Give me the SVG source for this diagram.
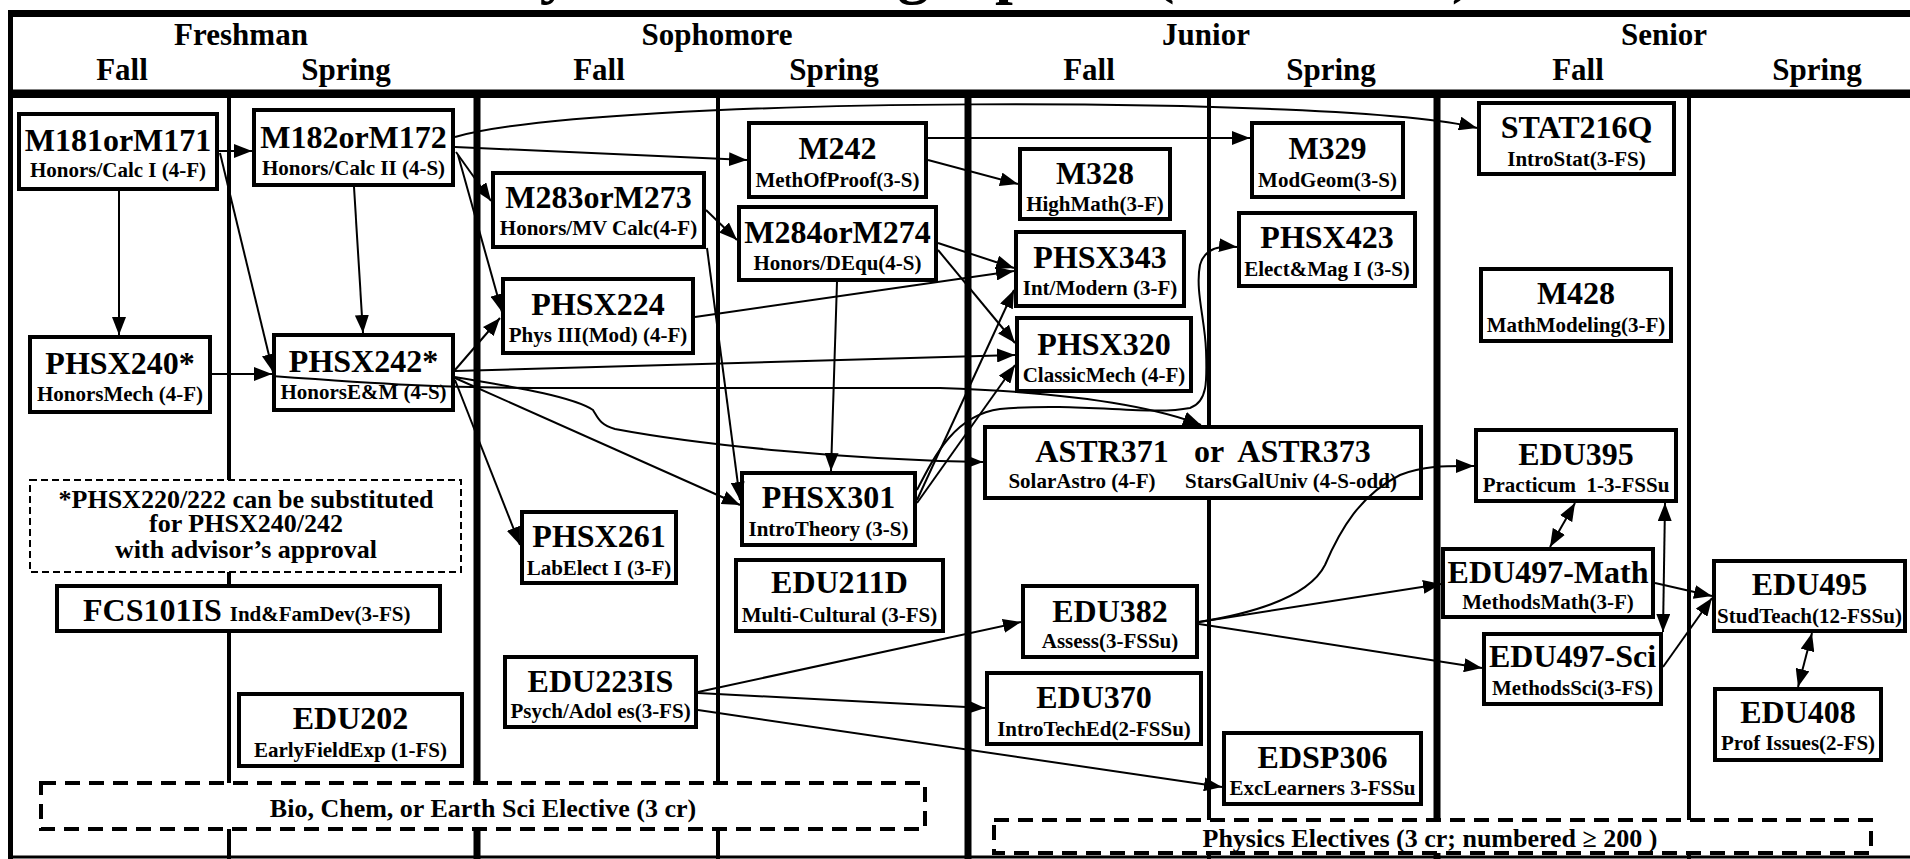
<svg xmlns="http://www.w3.org/2000/svg" width="1910" height="859" viewBox="0 0 1910 859">
<style>
text{font-family:"Liberation Serif","Times New Roman",serif;font-weight:bold;fill:#000}
.title{font-size:64px}
.hdr{font-size:31px;text-anchor:middle}
.main{font-size:32px;text-anchor:middle}
.sub{font-size:21px;text-anchor:middle}
.note{font-size:26px;text-anchor:middle}
.box{fill:#fff;stroke:#000;stroke-width:4}
.dash1{fill:#fff;stroke:#000;stroke-width:2;stroke-dasharray:7 4}
.dash2{fill:#fff;stroke:#000;stroke-width:4;stroke-dasharray:15 9}
.frame{fill:#000}
.c{fill:none;stroke:#000;stroke-width:2;marker-end:url(#ah)}
.d{fill:none;stroke:#000;stroke-width:2;marker-end:url(#ah);marker-start:url(#ah)}
</style>
<defs>
<marker id="ah" markerUnits="userSpaceOnUse" markerWidth="18" markerHeight="14" refX="18" refY="7" orient="auto-start-reverse" viewBox="0 0 18 14">
<path d="M0,0 L18,7 L0,14 z" fill="#000"/>
</marker>
</defs>
<rect width="1910" height="859" fill="#fff"/>
<text class="title" x="465" y="-9">Physics Teaching Option (2014-2015)</text>
<g id="frame">
<rect class="frame" x="8" y="10" width="1902" height="7"/>
<rect class="frame" x="8" y="89.5" width="1902" height="8.5"/>
<rect class="frame" x="8" y="10" width="5" height="849"/>
<rect class="frame" x="8" y="855.5" width="1902" height="3"/>
<rect class="frame" x="227" y="97" width="4" height="762"/>
<rect class="frame" x="473.5" y="97" width="7" height="762"/>
<rect class="frame" x="716" y="97" width="4" height="762"/>
<rect class="frame" x="964.5" y="97" width="7" height="762"/>
<rect class="frame" x="1207" y="97" width="4" height="762"/>
<rect class="frame" x="1433.5" y="97" width="7" height="762"/>
<rect class="frame" x="1687" y="97" width="4" height="762"/>
</g>
<g id="headers">
<text class="hdr" x="241" y="45">Freshman</text>
<text class="hdr" x="122" y="80">Fall</text>
<text class="hdr" x="346" y="80">Spring</text>
<text class="hdr" x="717" y="45">Sophomore</text>
<text class="hdr" x="599" y="80">Fall</text>
<text class="hdr" x="834" y="80">Spring</text>
<text class="hdr" x="1206" y="45">Junior</text>
<text class="hdr" x="1089" y="80">Fall</text>
<text class="hdr" x="1331" y="80">Spring</text>
<text class="hdr" x="1664" y="45">Senior</text>
<text class="hdr" x="1578" y="80">Fall</text>
<text class="hdr" x="1817" y="80">Spring</text>
</g>
<g id="note">
<rect class="dash1" x="30" y="480" width="431" height="92"/>
<text class="note" x="246" y="508">*PHSX220/222 can be substituted</text>
<text class="note" x="246" y="532">for PHSX240/242</text>
<text class="note" x="246" y="558">with advisor’s approval</text>
</g>
<g id="bio-elective">
<rect class="dash2" x="41" y="783" width="884" height="46"/>
<text class="note" x="483" y="817">Bio, Chem, or Earth Sci Elective (3 cr)</text>
</g>
<g id="phys-electives">
<rect class="dash2" x="994" y="820" width="877" height="33"/>
<text class="note" x="1430" y="847">Physics Electives (3 cr; numbered ≥ 200 )</text>
</g>
<g id="M181"><rect class="box" x="19" y="114" width="198" height="75"/><text class="main" x="118" y="151">M181orM171</text><text class="sub" x="118" y="177">Honors/Calc I (4-F)</text></g>
<g id="M182"><rect class="box" x="254" y="110" width="199" height="75"/><text class="main" x="353.5" y="148">M182orM172</text><text class="sub" x="353.5" y="175">Honors/Calc II (4-S)</text></g>
<g id="PHSX240"><rect class="box" x="30" y="337" width="180" height="75"/><text class="main" x="120" y="374">PHSX240*</text><text class="sub" x="120" y="401">HonorsMech (4-F)</text></g>
<g id="PHSX242"><rect class="box" x="274" y="335" width="179" height="75"/><text class="main" x="363.5" y="372">PHSX242*</text><text class="sub" x="363.5" y="399">HonorsE&amp;M (4-S)</text></g>
<g id="FCS101IS"><rect class="box" x="57" y="586" width="383" height="45"/><text x="83" y="621" style="font-size:32px" xml:space="preserve">FCS101IS <tspan style="font-size:21px">Ind&amp;FamDev(3-FS)</tspan></text></g>
<g id="EDU202"><rect class="box" x="239" y="694" width="223" height="72"/><text class="main" x="350.5" y="729">EDU202</text><text class="sub" x="350.5" y="757">EarlyFieldExp (1-FS)</text></g>
<g id="M283"><rect class="box" x="493" y="173" width="211" height="74"/><text class="main" x="598.5" y="208">M283orM273</text><text class="sub" x="598.5" y="235">Honors/MV Calc(4-F)</text></g>
<g id="PHSX224"><rect class="box" x="503" y="279" width="190" height="74"/><text class="main" x="598" y="315">PHSX224</text><text class="sub" x="598" y="342">Phys III(Mod) (4-F)</text></g>
<g id="PHSX261"><rect class="box" x="522" y="512" width="154" height="71"/><text class="main" x="599" y="547">PHSX261</text><text class="sub" x="599" y="575">LabElect I (3-F)</text></g>
<g id="EDU223IS"><rect class="box" x="505" y="657" width="191" height="70"/><text class="main" x="600.5" y="692">EDU223IS</text><text class="sub" x="600.5" y="718">Psych/Adol es(3-FS)</text></g>
<g id="M242"><rect class="box" x="749" y="123" width="177" height="74"/><text class="main" x="837.5" y="159">M242</text><text class="sub" x="837.5" y="187">MethOfProof(3-S)</text></g>
<g id="M284"><rect class="box" x="739" y="207" width="197" height="73"/><text class="main" x="837.5" y="243">M284orM274</text><text class="sub" x="837.5" y="270">Honors/DEqu(4-S)</text></g>
<g id="PHSX301"><rect class="box" x="742" y="473" width="173" height="72"/><text class="main" x="828.5" y="508">PHSX301</text><text class="sub" x="828.5" y="536">IntroTheory (3-S)</text></g>
<g id="EDU211D"><rect class="box" x="736" y="560" width="207" height="71"/><text class="main" x="839.5" y="593">EDU211D</text><text class="sub" x="839.5" y="622">Multi-Cultural (3-FS)</text></g>
<g id="M328"><rect class="box" x="1020" y="149" width="150" height="70"/><text class="main" x="1095" y="184">M328</text><text class="sub" x="1095" y="211">HighMath(3-F)</text></g>
<g id="PHSX343"><rect class="box" x="1016" y="232" width="168" height="74"/><text class="main" x="1100" y="268">PHSX343</text><text class="sub" x="1100" y="295">Int/Modern (3-F)</text></g>
<g id="PHSX320"><rect class="box" x="1017" y="318" width="174" height="73"/><text class="main" x="1104" y="355">PHSX320</text><text class="sub" x="1104" y="382">ClassicMech (4-F)</text></g>
<g id="ASTR"><rect class="box" x="985" y="427" width="436" height="71"/><text class="main" y="462"><tspan x="1102">ASTR371</tspan><tspan x="1209">or</tspan><tspan x="1304">ASTR373</tspan></text><text class="sub" y="488"><tspan x="1082">SolarAstro (4-F)</tspan><tspan x="1291">StarsGalUniv (4-S-odd)</tspan></text></g>
<g id="EDU382"><rect class="box" x="1023" y="586" width="174" height="71"/><text class="main" x="1110" y="622">EDU382</text><text class="sub" x="1110" y="648">Assess(3-FSSu)</text></g>
<g id="EDU370"><rect class="box" x="987" y="673" width="214" height="71"/><text class="main" x="1094" y="708">EDU370</text><text class="sub" x="1094" y="736">IntroTechEd(2-FSSu)</text></g>
<g id="M329"><rect class="box" x="1252" y="123" width="151" height="74"/><text class="main" x="1327.5" y="159">M329</text><text class="sub" x="1327.5" y="187">ModGeom(3-S)</text></g>
<g id="PHSX423"><rect class="box" x="1239" y="213" width="176" height="73"/><text class="main" x="1327" y="248">PHSX423</text><text class="sub" x="1327" y="276">Elect&amp;Mag I (3-S)</text></g>
<g id="EDSP306"><rect class="box" x="1224" y="733" width="197" height="71"/><text class="main" x="1322.5" y="768">EDSP306</text><text class="sub" x="1322.5" y="795">ExcLearners 3-FSSu</text></g>
<g id="STAT216Q"><rect class="box" x="1479" y="103" width="195" height="71"/><text class="main" x="1576.5" y="138">STAT216Q</text><text class="sub" x="1576.5" y="166">IntroStat(3-FS)</text></g>
<g id="M428"><rect class="box" x="1481" y="269" width="190" height="72"/><text class="main" x="1576" y="304">M428</text><text class="sub" x="1576" y="332">MathModeling(3-F)</text></g>
<g id="EDU395"><rect class="box" x="1476" y="430" width="200" height="71"/><text class="main" x="1576" y="465">EDU395</text><text class="sub" x="1576" y="492" xml:space="preserve">Practicum  1-3-FSSu</text></g>
<g id="EDU497-Math"><rect class="box" x="1443" y="549" width="210" height="68"/><text class="main" x="1548" y="583">EDU497-Math</text><text class="sub" x="1548" y="609">MethodsMath(3-F)</text></g>
<g id="EDU497-Sci"><rect class="box" x="1484" y="634" width="177" height="70"/><text class="main" x="1572.5" y="667">EDU497-Sci</text><text class="sub" x="1572.5" y="695">MethodsSci(3-FS)</text></g>
<g id="EDU495"><rect class="box" x="1714" y="561" width="191" height="70"/><text class="main" x="1809.5" y="595">EDU495</text><text class="sub" x="1809.5" y="623">StudTeach(12-FSSu)</text></g>
<g id="EDU408"><rect class="box" x="1715" y="689" width="166" height="71"/><text class="main" x="1798" y="723">EDU408</text><text class="sub" x="1798" y="750">Prof Issues(2-FS)</text></g>
<g id="connectors">
<path class="c" d="M219,151 L252,151"/>
<path class="c" d="M119,191 L119,335"/>
<path class="c" d="M220,153 L273,372"/>
<path class="c" d="M354,187 L363,333"/>
<path class="c" d="M212,374 L272,374"/>
<path class="c" d="M455,147 L747,160"/>
<path class="c" d="M455,137 C600,95 1350,95 1477,128"/>
<path class="c" d="M456,152 L491,201"/>
<path class="c" d="M458,155 L502,312"/>
<path class="c" d="M455,370 L500,318"/>
<path class="c" d="M455,371 L1015,355"/>
<path class="c" d="M272,376 C380,384 440,388 560,388 L940,388 C1060,392 1150,405 1201,425"/>
<path class="c" d="M455,377 C500,385 570,395 593,410 C598,418 600,425 615,429 C700,445 850,460 983,462"/>
<path class="c" d="M455,378 L740,505"/>
<path class="c" d="M455,380 L520,545"/>
<path class="c" d="M706,210 L737,240"/>
<path class="c" d="M707,248 L740,500"/>
<path class="c" d="M837,282 L831,471"/>
<path class="c" d="M928,138 L1250,138"/>
<path class="c" d="M928,160 L1018,184"/>
<path class="c" d="M938,243 L1014,268"/>
<path class="c" d="M938,250 L1015,343"/>
<path class="c" d="M695,317 L1014,271"/>
<path class="c" d="M917,500 L1014,290"/>
<path class="c" d="M917,503 L1015,365"/>
<path class="c" d="M917,490 C935,455 955,415 1000,409 C1080,402 1150,416 1190,408 C1208,402 1207,380 1206,350 C1205,320 1195,290 1200,265 C1204,250 1218,245 1237,247"/>
<path class="c" d="M698,692 L1021,622"/>
<path class="c" d="M698,693 L985,708"/>
<path class="c" d="M698,710 L1222,787"/>
<path class="c" d="M1199,622 C1260,612 1310,595 1325,565 C1340,530 1360,495 1400,475 C1425,465 1450,466 1474,466"/>
<path class="c" d="M1199,622 L1441,584"/>
<path class="c" d="M1199,624 L1482,668"/>
<path class="d" d="M1575,503 L1550,547"/>
<path class="d" d="M1665,503 L1663,632"/>
<path class="c" d="M1655,583 L1712,596"/>
<path class="c" d="M1663,667 L1712,598"/>
<path class="d" d="M1812,633 L1798,687"/>
</g>
</svg>
